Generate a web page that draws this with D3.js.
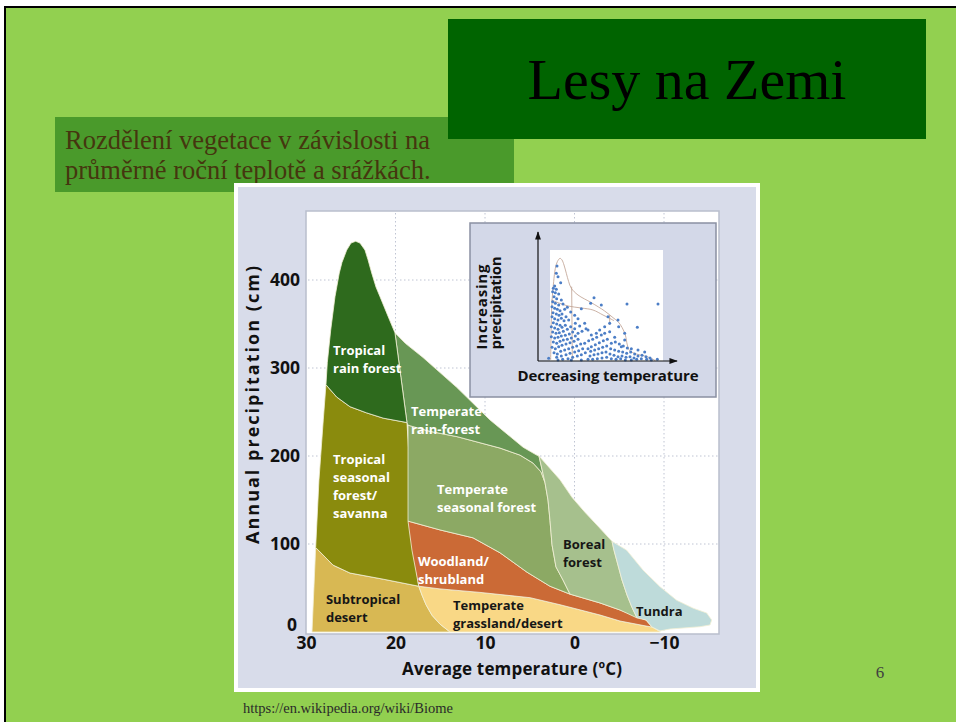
<!DOCTYPE html>
<html><head><meta charset="utf-8">
<script src="https://cdn.jsdelivr.net/npm/d3@7"></script>
<style>body{margin:0;background:#fff}svg{display:block}</style>
</head><body>
<svg id="c" width="956" height="722"></svg>
<script>
// ---------- DATA ----------
const xTicks = [30, 20, 10, 0, -10];
const yTicks = [0, 100, 200, 300, 400];
const gridX = [20, 10, 0, -10];
const gridY = [100, 200, 300, 400];

// biome outlines as [temperature °C, precipitation cm]
const subtropicalDesert = [[28.92,96],[26.98,76],[25.08,67],[21.36,60],[17.40,52],[17.04,42],[16.59,31],[15.92,19],[15.03,9],[13.91,0],[29.33,0]];
const temperateGrassland = [[17.40,52],[15.03,49],[10.56,45],[4.97,39],[1.62,31],[-2.85,19.3],[-5.08,12.5],[-7.99,6.8],[-8.66,5.7],[-9.55,0.5],[-9.6,0],[13.91,0],[15.03,9],[15.92,19],[16.59,31],[17.04,42]];
const tropicalSeasonal = [[27.77,281],[26.57,267],[25.08,256],[23.22,249],[21.36,243],[18.72,238],[18.55,210],[18.38,184],[18.16,127],[17.82,82],[17.40,52],[21.36,60],[25.08,67],[26.98,76],[28.92,96],[28.55,173],[28.07,241]];
const woodland = [[18.60,126],[15.03,116],[11.34,107],[8.32,90],[5.31,68],[2.74,52],[0.50,43],[-2.85,33],[-5.08,25],[-7.99,13.6],[-8.66,5.7],[-7.99,6.8],[-5.08,12.5],[-2.85,19.3],[1.62,31],[4.97,39],[10.56,45],[15.03,49],[17.40,52],[18.16,93]];
const temperateSeasonal = [[18.60,235],[16.15,228],[13.13,222],[8.32,209],[6.09,201],[4.64,192],[3.74,182],[3.30,170],[2.96,150],[2.74,127],[2.51,99],[2.07,74],[1.28,59],[0.50,43],[2.74,52],[5.31,68],[8.32,90],[11.34,107],[15.03,116],[18.60,126]];
const temperateRain = [[20.06,340],[18.90,328],[16.93,312],[13.16,278],[9.44,241],[5.75,210],[4.23,201],[3.97,200],[3.30,170],[3.74,182],[4.64,192],[6.09,201],[8.32,209],[13.13,222],[16.15,228],[18.60,235],[18.72,238],[19.39,289]];
const tropicalRain = [[27.77,281],[27.62,306],[27.24,343],[26.76,381],[26.28,408],[25.98,420],[25.45,434],[24.97,442],[24.45,444],[23.97,442],[23.41,434],[23.07,423],[22.66,408],[22.18,392],[21.73,381],[20.80,358],[20.06,340],[19.39,289],[18.72,238],[21.36,243],[23.22,249],[25.08,256],[26.57,267]];
const borealForest = [[3.97,200],[1.62,173],[0.28,153],[-1.17,136],[-2.74,119],[-4.19,103],[-4.41,93],[-4.86,76],[-5.31,59],[-5.87,42],[-6.42,28],[-6.98,16],[-5.08,25],[-2.85,33],[0.50,43],[1.28,59],[2.07,74],[2.51,99],[2.74,127],[2.96,150],[3.30,170]];
const tundra = [[-4.19,103],[-5.83,93],[-7.69,70],[-9.55,51.5],[-11.42,36],[-13.27,27],[-14.77,21.6],[-15.33,13.6],[-15.14,8],[-14.02,6],[-10.67,3.4],[-9.55,1.2],[-8.66,5.7],[-7.99,13.6],[-6.98,16],[-6.42,28],[-5.87,42],[-5.31,59],[-4.86,76],[-4.41,93]];

const biomeNames = ["Subtropical desert","Temperate grassland/desert","Tropical seasonal forest/savanna","Woodland/shrubland","Temperate seasonal forest","Temperate rain forest","Tropical rain forest","Boreal forest","Tundra"];
const biomeShapes = [subtropicalDesert, temperateGrassland, tropicalSeasonal, woodland, temperateSeasonal, temperateRain, tropicalRain, borealForest, tundra];

// labels: lines and anchor [temp, precip]
const labelLines = [["Tropical","rain forest"],["Temperate","rain-forest"],["Tropical","seasonal","forest/","savanna"],["Temperate","seasonal forest"],["Woodland/","shrubland"],["Boreal","forest"],["Subtropical","desert"],["Temperate","grassland/desert"],["Tundra"]];
const labelAnchors = [[26.98,315],[18.27,245.5],[26.98,191],[15.36,157],[17.49,75],[1.28,94],[27.77,31.8],[13.58,25],[-6.87,18]];

// inset: [temperature index (increasing = colder), precipitation index]
const insetDots = [[57,297],[55,275],[60,265],[68,247],[50,237],[46,230],[55,227],[44,220],[52,217],[62,213],[48,205],[56,199],[70,195],[44,190],[52,185],[62,180],[75,183],[42,175],[50,170],[58,167],[66,163],[80,167],[45,157],[55,153],[63,149],[72,153],[88,173],[42,145],[50,139],[60,135],[70,140],[78,133],[46,127],[56,123],[66,119],[84,145],[92,135],[40,115],[50,111],[60,107],[72,113],[82,119],[44,99],[54,95],[64,97],[76,101],[88,107],[98,115],[40,85],[50,81],[60,83],[70,87],[82,89],[94,93],[104,99],[46,69],[56,65],[66,71],[76,75],[88,77],[100,81],[112,87],[42,53],[52,49],[62,55],[72,59],[84,63],[96,67],[108,71],[120,77],[48,37],[58,33],[68,41],[80,45],[92,49],[104,53],[116,57],[128,63],[56,23],[70,27],[84,31],[96,35],[110,39],[122,43],[134,49],[74,17],[90,19],[104,23],[118,27],[130,31],[142,37],[150,49],[32,20],[140,65],[152,73],[164,77],[176,83],[120,95],[132,101],[144,109],[110,109],[125,117],[140,125],[150,105],[130,169],[158,185],[168,202],[190,180],[210,145],[215,125],[240,135],[242,115],[185,105],[200,95],[215,100],[230,83],[260,75],[298,113],[267,183],[360,183],[160,55],[172,61],[184,67],[196,73],[208,77],[220,65],[232,69],[244,63],[256,57],[268,51],[158,41],[170,45],[182,49],[194,53],[206,57],[218,49],[230,45],[242,41],[254,39],[266,35],[278,39],[290,33],[156,27],[168,31],[180,33],[192,37],[204,39],[216,33],[228,29],[240,25],[252,27],[264,23],[276,25],[288,21],[300,27],[312,29],[324,25],[336,21],[164,17],[178,19],[192,21],[206,23],[220,19],[234,17],[248,19],[262,15],[280,15],[296,17],[310,19],[326,17],[340,15],[358,17],[60,15],[100,15],[130,15],[150,17],[200,115],[175,95],[190,90],[160,90],[260,95],[250,55],[280,49],[300,45],[320,39],[110,149],[98,159],[120,139],[112,125]];
const insetOutline = [[38,15],[39,85],[40,145],[43,205],[47,250],[52,290],[58,310],[66,320],[72,315],[78,300],[85,275],[92,250],[100,230],[120,210],[160,187],[200,162],[225,142],[240,130],[252,113],[262,90],[268,60],[275,43],[295,33],[320,27],[340,20],[352,13]];
const insetVertical = [[101,235],[103,15]];
const insetCross = [[40,195],[60,187],[90,177],[130,171],[165,165],[195,150],[215,140],[228,133]];
const insetShort = [[215,150],[215,120]];

// ---------- STYLE ----------
const biomeColor = {
  "Subtropical desert":"#D8B853","Temperate grassland/desert":"#F9D886","Tropical seasonal forest/savanna":"#8A8B0D",
  "Woodland/shrubland":"#CB6A36","Temperate seasonal forest":"#8CA964","Temperate rain forest":"#689755",
  "Tropical rain forest":"#2E6A1D","Boreal forest":"#A6C08D","Tundra":"#BEDBDA"};
const darkLabel = [false,false,false,false,false,true,true,true,true];
const SANS = "'Open Sans', 'DejaVu Sans', sans-serif";
const SERIF = "'Liberation Serif', 'Times New Roman', serif";

const svg = d3.select("#c");

// slide
svg.append("rect").attr("x",5).attr("y",7).attr("width",960).attr("height",720)
  .attr("fill","#92D050").attr("stroke","#000").attr("stroke-width",2);
svg.append("rect").attr("x",55).attr("y",117).attr("width",459).attr("height",75).attr("fill","#4A9A2B");
svg.append("rect").attr("x",448).attr("y",19).attr("width",478).attr("height",120).attr("fill","#006400");
svg.append("text").attr("x",687).attr("y",99).attr("text-anchor","middle")
  .attr("font-family",SERIF).attr("font-size",58).attr("fill","#000").text("Lesy na Zemi");
svg.append("text").attr("x",65).attr("y",149).attr("font-family",SERIF).attr("font-size",26.5).attr("fill","#45360F")
  .text("Rozdělení vegetace v závislosti na");
svg.append("text").attr("x",65).attr("y",179).attr("font-family",SERIF).attr("font-size",26.5).attr("fill","#45360F")
  .text("průměrné roční teplotě a srážkách.");

// chart frame
svg.append("rect").attr("x",234).attr("y",183).attr("width",526).attr("height",509).attr("fill","#fff");
svg.append("rect").attr("x",238).attr("y",187).attr("width",518).attr("height",501).attr("fill","#D8DCEA");
svg.append("rect").attr("x",306).attr("y",211).attr("width",413).attr("height",423).attr("fill","#fff")
  .attr("stroke","#B9BECD").attr("stroke-width",1.5);

const x = d3.scaleLinear().domain([30,-10]).range([306,664]);
const y = d3.scaleLinear().domain([0,400]).range([632,280]);

// grid
const grid = svg.append("g").attr("stroke","#BFC4D3").attr("stroke-width",1).attr("stroke-dasharray","1.5,2.5");
grid.selectAll(".gx").data(gridX).join("line").attr("x1",d=>x(d)).attr("x2",d=>x(d)).attr("y1",213).attr("y2",632);
grid.selectAll(".gy").data(gridY).join("line").attr("x1",308).attr("x2",718).attr("y1",d=>y(d)).attr("y2",d=>y(d));

// biomes
const line = d3.line().x(d=>x(d[0])).y(d=>y(d[1]));
svg.append("g").selectAll("path").data(biomeShapes).join("path")
  .attr("d",d=>line(d)+"Z").attr("fill",(d,i)=>biomeColor[biomeNames[i]])
  .attr("stroke","#F3F0D6").attr("stroke-width",0.8).attr("stroke-linejoin","round");

// labels
const lbl = svg.append("g").attr("font-family",SANS).attr("font-weight",700).attr("font-size",13);
labelLines.forEach((lines,i)=>{
  const t = lbl.append("text").attr("x",x(labelAnchors[i][0])).attr("y",y(labelAnchors[i][1]))
    .attr("fill",darkLabel[i]?"#161616":"#FFFFFF");
  lines.forEach((s,j)=>t.append("tspan").attr("x",x(labelAnchors[i][0])).attr("dy",j===0?0:18).text(s));
});

// axes
const xa = svg.append("g").attr("transform","translate(0,632)")
  .call(d3.axisBottom(x).tickValues(xTicks).tickSize(0).tickPadding(5));
xa.select(".domain").remove();
xa.selectAll("text").attr("font-family",SANS).attr("font-weight",700).attr("font-size",17.5).attr("fill","#111");
const ya = svg.append("g").attr("transform","translate(306,0)")
  .call(d3.axisLeft(y).tickValues(yTicks).tickSize(0).tickPadding(6));
ya.select(".domain").remove();
ya.selectAll("text").attr("font-family",SANS).attr("font-weight",700).attr("font-size",17.5).attr("fill","#111");
ya.selectAll(".tick").filter(d=>d===0).select("text").attr("transform","translate(-3,-7)");

svg.append("text").attr("x",512).attr("y",675).attr("text-anchor","middle")
  .attr("font-family",SANS).attr("font-weight",700).attr("font-size",17).attr("fill","#111")
  .attr("textLength",220).text("Average temperature (ºC)");
svg.append("text").attr("transform","translate(259,405) rotate(-90)").attr("text-anchor","middle")
  .attr("font-family",SANS).attr("font-weight",700).attr("font-size",18).attr("fill","#111")
  .attr("textLength",278).text("Annual precipitation (cm)");

// inset
svg.append("rect").attr("x",470).attr("y",223).attr("width",246).attr("height",174)
  .attr("fill","#D3D8E8").attr("stroke","#8A90A2").attr("stroke-width",1.5);
svg.append("rect").attr("x",550).attr("y",250).attr("width",113).attr("height",111).attr("fill","#fff");
const ix = d3.scaleLinear().domain([0,390]).range([538,668]);
const iy = d3.scaleLinear().domain([0,345]).range([365,250]);
const iline = d3.line().x(d=>ix(d[0])).y(d=>iy(d[1])).curve(d3.curveCatmullRom);
svg.append("g").selectAll("path").data([insetOutline,insetVertical,insetCross,insetShort]).join("path")
  .attr("d",d=>iline(d)).attr("fill","none").attr("stroke","#BE9E8E").attr("stroke-width",0.8);
svg.append("g").selectAll("circle").data(insetDots).join("circle")
  .attr("cx",d=>ix(d[0])).attr("cy",d=>iy(d[1])).attr("r",1.5).attr("fill","#4C7EC6");

const defs = svg.append("defs");
defs.append("marker").attr("id","arr").attr("viewBox","0 0 10 10").attr("refX",9).attr("refY",5)
  .attr("markerWidth",7).attr("markerHeight",7).attr("orient","auto")
  .append("path").attr("d","M0,1.5L10,5L0,8.5Z").attr("fill","#111");
svg.append("line").attr("x1",538).attr("y1",361).attr("x2",538).attr("y2",232)
  .attr("stroke","#111").attr("stroke-width",1.2).attr("marker-end","url(#arr)");
svg.append("line").attr("x1",538).attr("y1",361).attr("x2",677).attr("y2",361)
  .attr("stroke","#111").attr("stroke-width",1.2).attr("marker-end","url(#arr)");
svg.append("text").attr("x",608).attr("y",381).attr("text-anchor","middle")
  .attr("font-family",SANS).attr("font-weight",700).attr("font-size",15).attr("fill","#111")
  .attr("textLength",181).text("Decreasing temperature");
svg.append("text").attr("transform","translate(487,307) rotate(-90)").attr("text-anchor","middle")
  .attr("font-family",SANS).attr("font-weight",700).attr("font-size",15).attr("fill","#111")
  .attr("textLength",85).text("Increasing");
svg.append("text").attr("transform","translate(501,303) rotate(-90)").attr("text-anchor","middle")
  .attr("font-family",SANS).attr("font-weight",700).attr("font-size",15).attr("fill","#111")
  .attr("textLength",93).text("precipitation");

// slide footer
svg.append("text").attr("x",880).attr("y",678).attr("text-anchor","middle")
  .attr("font-family",SERIF).attr("font-size",17).attr("fill","#404040").text("6");
svg.append("text").attr("x",243).attr("y",713)
  .attr("font-family",SERIF).attr("font-size",14.5).attr("fill","#2A2A2A").text("https://en.wikipedia.org/wiki/Biome");
</script>
</body></html>
